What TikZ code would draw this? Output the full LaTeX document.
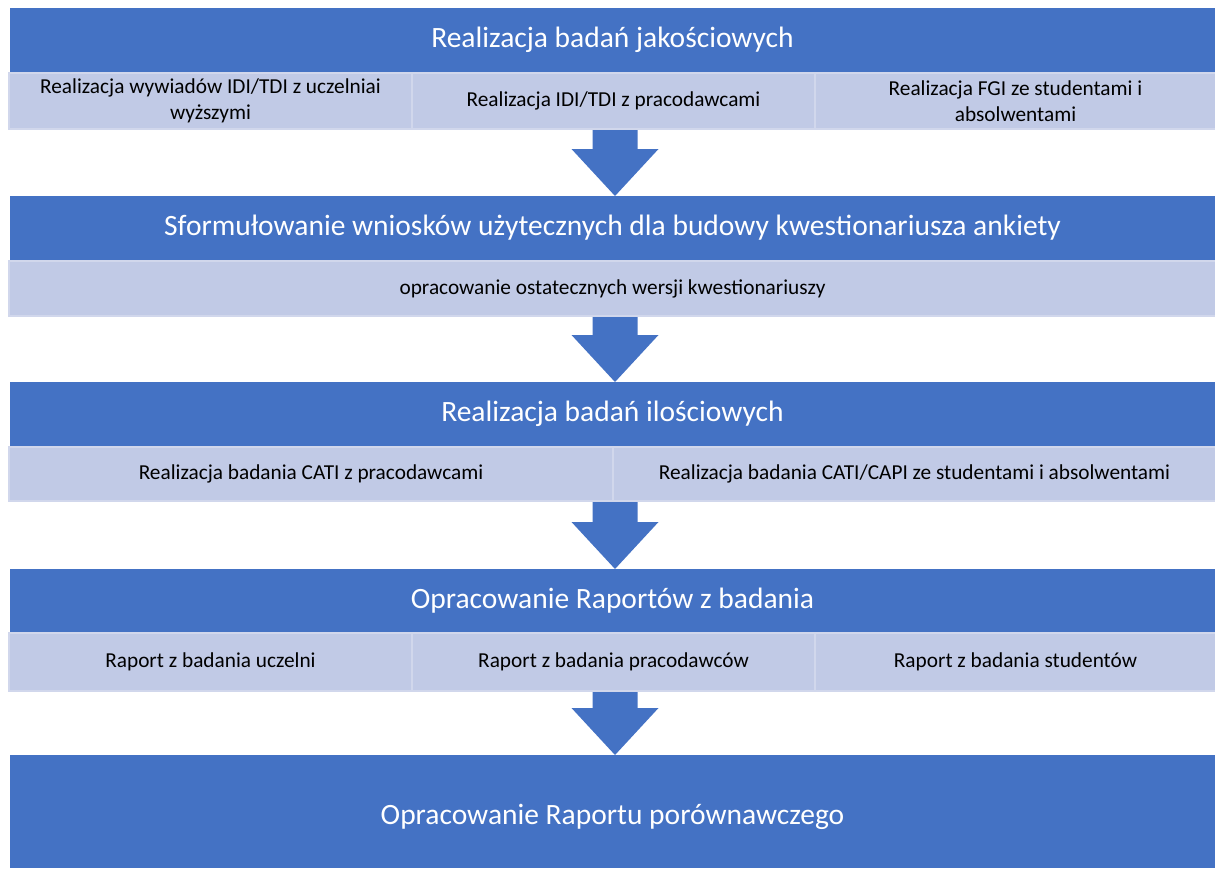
\documentclass[tikz,border=0pt]{standalone}
\usepackage{fontspec}
\setmainfont{Carlito}
\usetikzlibrary{calc}
\definecolor{hdrblue}{HTML}{4472C4}
\definecolor{cellfill}{HTML}{C1CAE6}
\definecolor{cellline}{HTML}{D1D7EC}

\begin{document}
\begin{tikzpicture}[x=1pt,y=-1pt]
		\tikzset{hdr/.style = {shape=rectangle, fill=hdrblue, text=white, font=\fontsize{29.5}{35}\selectfont, minimum width=1205pt, inner sep=0pt, outer sep=0pt, anchor=north west},
			cell/.style = {shape=rectangle, fill=cellfill, draw=cellline, line width=2pt, font=\fontsize{21.3}{25.5}\selectfont, align=center, inner sep=0pt, outer sep=0pt, anchor=north west},
			blk/.style = {fill=hdrblue}}

		\useasboundingbox (0,0) rectangle (1215,868);

		% etap 1
		\node[hdr, minimum height=64pt] (h1) at (10,8) {Realizacja badań jakościowych};
		\node[cell, minimum width=403pt, minimum height=56pt] (c1a) at (9,73) {Realizacja wywiadów IDI/TDI z uczelniai\\wyższymi};
		\node[cell, minimum width=403pt, minimum height=56pt] (c1b) at (412,73) {Realizacja IDI/TDI z pracodawcami};
		\node[cell, minimum width=401pt, minimum height=56pt] (c1c) at (815,73) {Realizacja FGI ze studentami i\\absolwentami};

		% etap 2
		\node[hdr, minimum height=64pt] (h2) at (10,196) {Sformułowanie wniosków użytecznych dla budowy kwestionariusza ankiety};
		\node[cell, minimum width=1207pt, minimum height=55pt] (c2a) at (9,261) {opracowanie ostatecznych wersji kwestionariuszy};

		% etap 3
		\node[hdr, minimum height=64pt] (h3) at (10,382) {Realizacja badań ilościowych};
		\node[cell, minimum width=604pt, minimum height=54pt] (c3a) at (9,447) {Realizacja badania CATI z pracodawcami};
		\node[cell, minimum width=603pt, minimum height=54pt] (c3b) at (613,447) {Realizacja badania CATI/CAPI ze studentami i absolwentami};

		% etap 4
		\node[hdr, minimum height=63pt] (h4) at (10,569) {Opracowanie Raportów z badania};
		\node[cell, minimum width=403pt, minimum height=58pt] (c4a) at (9,633) {Raport z badania uczelni};
		\node[cell, minimum width=403pt, minimum height=58pt] (c4b) at (412,633) {Raport z badania pracodawców};
		\node[cell, minimum width=401pt, minimum height=58pt] (c4c) at (815,633) {Raport z badania studentów};

		% etap 5
		\node[hdr, minimum height=113pt, text height=32pt] (h5) at (10,755) {Opracowanie Raportu porównawczego};

		% strzalki
		\foreach \a/\b in {c1a/h2, c2a/h3, c3a/h4, c4a/h5}
			\fill[blk] let \p1=(\b.north |- \a.south), \p2=(\b.north) in
				(\x1-20pt,\y1-1pt) -- (\x1+25pt,\y1-1pt) -- (\x1+25pt,\y2+47pt) -- (\x1+46pt,\y2+47pt)
				-- (\x1+2.5pt,\y2) -- (\x1-41pt,\y2+47pt) -- (\x1-20pt,\y2+47pt) -- cycle;

	\end{tikzpicture}
\end{document}
